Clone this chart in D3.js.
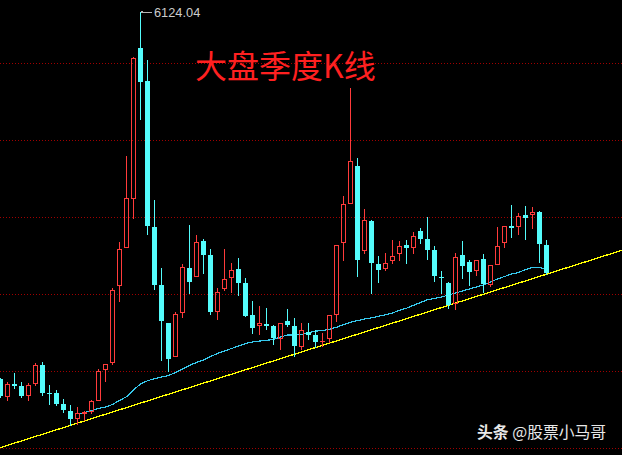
<!DOCTYPE html>
<html><head><meta charset="utf-8">
<script src="https://cdn.jsdelivr.net/npm/d3@7"></script>
<style>html,body{margin:0;padding:0;background:#000;}svg{display:block;}</style>
</head><body>
<svg id="c" width="622" height="455"></svg>
<script>
const quarters = ["2002Q4",
"2003Q1","2003Q2","2003Q3","2003Q4","2004Q1","2004Q2","2004Q3","2004Q4",
"2005Q1","2005Q2","2005Q3","2005Q4","2006Q1","2006Q2","2006Q3","2006Q4",
"2007Q1","2007Q2","2007Q3","2007Q4","2008Q1","2008Q2","2008Q3","2008Q4",
"2009Q1","2009Q2","2009Q3","2009Q4","2010Q1","2010Q2","2010Q3","2010Q4",
"2011Q1","2011Q2","2011Q3","2011Q4","2012Q1","2012Q2","2012Q3","2012Q4",
"2013Q1","2013Q2","2013Q3","2013Q4","2014Q1","2014Q2","2014Q3","2014Q4",
"2015Q1","2015Q2","2015Q3","2015Q4","2016Q1","2016Q2","2016Q3","2016Q4",
"2017Q1","2017Q2","2017Q3","2017Q4","2018Q1","2018Q2","2018Q3","2018Q4",
"2019Q1","2019Q2","2019Q3","2019Q4","2020Q1","2020Q2","2020Q3","2020Q4",
"2021Q1","2021Q2","2021Q3","2021Q4","2022Q1","2022Q2"];
const open = [1566,1342,1504,1479,1358,1498,1740,1392,1392,1255,
1168,1073,1137,1156,1296,1678,1768,2726,3198,3807,
5680,5274,3455,2734,2262,1843,2383,2946,2838,3281,
3104,2395,2681,2825,2933,2759,2361,2219,2250,2225,
2063,2287,2225,1964,2156,2113,2026,2057,2365,3260,
3745,4214,3161,3530,2995,2939,3027,3116,3232,3198,
3406,3306,3169,2834,2759,2492,3107,3020,2908,3057,
2734,2987,3260,3468,3452,3604,3604,3642,3232];
const close = [1355,1504,1479,1355,1491,1740,1396,1383,1255,1181,
1069,1143,1152,1292,1665,1749,2672,3182,3812,5560,
5261,3471,2738,2291,1818,2374,2958,2775,3269,3111,
2399,2644,2809,2917,2763,2353,2196,2258,2229,2072,
2258,2237,1976,2175,2113,2026,2038,2361,3228,3738,
4272,3045,3539,3002,2925,3008,3095,3219,3198,3343,
3310,3169,2846,2825,2486,3082,2971,2896,3045,2747,
2983,3219,3468,3443,3592,3567,3642,3244,2884];
const high = [1578,1529,1644,1529,1520,1759,1777,1491,1429,1314,
1243,1218,1168,1305,1690,1756,2697,3269,4338,5568,
6124.04,5531,3791,2946,2266,2399,2995,3476,3352,3310,
3182,2697,3182,3008,3070,2821,2536,2473,2449,2231,
2266,2436,2324,2262,2258,2175,2134,2365,3232,3841,
5179,4313,3679,3542,3095,3132,3294,3281,3294,3393,
3443,3580,3219,2908,2772,3132,3281,3045,3051,3120,
2989,3455,3471,3729,3629,3716,3704,3654,3294];
const low = [1342,1305,1460,1342,1305,1495,1371,1255,1249,1156,
994,1007,1056,1149,1292,1541,1752,2536,3194,3571,
4794,3365,2688,1802,1669,1839,2333,2639,2834,2887,
2374,2316,2672,2647,2614,2349,2134,2125,2187,1995,
1943,2221,1846,1939,2063,1967,1976,2020,2281,3045,
3741,2846,3136,2639,2775,2925,3014,3045,3011,3136,
3256,3057,2784,2635,2449,2436,2821,2734,2859,2647,
2722,2983,3210,3331,3368,3306,3443,3020,2877];
// moving average line, starting at quarter index 11
const maStart = 11;
const maValues = [1131,1150,1174,1199,1218,1249,1299,1345,1429,1504,
1544,1570,1591,1609,1647,1690,1736,1771,1802,1846,
1883,1914,1945,1976,2007,2026,2038,2047,2057,2088,
2113,2113,2119,2144,2160,2169,2184,2209,2242,2271,
2292,2312,2327,2345,2364,2386,2421,2446,2482,2517,
2552,2567,2585,2610,2635,2660,2685,2710,2734,2772,
2809,2840,2871,2890,2927,2952,2952,2933];
// yellow support line: quarter index -> value
const trendIdx = [-1, 90];
const trendVal = [686, 3200];
const gridValues = [708, 1665, 2623, 3580, 4537, 5494];
const titleText = "大盘季度K线";
const maxLabel = "6124.04";

const W = 622, H = 455;
const svg = d3.select("#c");
const y = d3.scaleLinear().domain([621.3, 6276.9]).range([H, 0]);
const xb = d3.scaleBand().domain(quarters).range([-3, -3 + 7 * quarters.length]).padding(0);
const bw = xb.bandwidth();
const cx = i => xb(quarters[i]) + bw / 2;
const xi = d3.scaleLinear().domain([0, quarters.length - 1]).range([cx(0), cx(quarters.length - 1)]);
const py = v => Math.round(y(v));

const RED = "#ff3b3b", CYAN = "#54fcfc";

// grid
svg.append("g").selectAll("line").data(gridValues).join("line")
  .attr("x1", 0).attr("x2", W)
  .attr("y1", d => py(d) + 0.5).attr("y2", d => py(d) + 0.5)
  .attr("stroke", "#a00000").attr("stroke-width", 1)
  .attr("stroke-dasharray", "1,2").attr("shape-rendering", "crispEdges");

// trend line
svg.append("path")
  .datum(trendIdx.map((q, k) => [q, trendVal[k]]))
  .attr("d", d3.line().x(d => xi(d[0])).y(d => y(d[1])))
  .attr("fill", "none").attr("stroke", "#ffff00").attr("stroke-width", 1.3)
  .attr("shape-rendering", "crispEdges");

// MA line
svg.append("path")
  .datum(maValues.map((v, k) => [maStart + k, v]))
  .attr("d", d3.line().x(d => xi(d[0])).y(d => y(d[1])))
  .attr("fill", "none").attr("stroke", "#36c8ec").attr("stroke-width", 1.2)
  .attr("shape-rendering", "crispEdges");

// candles
const g = svg.append("g").attr("shape-rendering", "crispEdges");
quarters.forEach((q, i) => {
  const o = open[i], c = close[i], h = high[i], l = low[i];
  const up = c > o;
  const col = up ? RED : CYAN;
  const x0 = Math.round(xb(q) + bw / 2 - 2.5);
  const xc = x0 + 2.5;
  const top = py(Math.max(o, c)), bot = py(Math.min(o, c));
  const yh = py(h), yl = py(l);
  if (up) {
    if (yh < top) g.append("line").attr("x1", xc).attr("x2", xc).attr("y1", yh).attr("y2", top).attr("stroke", col);
    if (yl > bot) g.append("line").attr("x1", xc).attr("x2", xc).attr("y1", bot).attr("y2", yl + 1).attr("stroke", col);
    if (bot - top >= 2) {
      g.append("rect").attr("x", x0 + 0.5).attr("y", top + 0.5).attr("width", 4).attr("height", bot - top - 1)
        .attr("fill", "none").attr("stroke", col).attr("stroke-width", 1);
    } else {
      g.append("rect").attr("x", x0).attr("y", top).attr("width", 5).attr("height", Math.max(1, bot - top)).attr("fill", col);
    }
  } else {
    g.append("line").attr("x1", xc).attr("x2", xc).attr("y1", yh).attr("y2", yl + 1).attr("stroke", col);
    g.append("rect").attr("x", x0).attr("y", top).attr("width", 5).attr("height", Math.max(1, bot - top)).attr("fill", col);
  }
});

// max label
const mi = high.indexOf(d3.max(high));
const mx = Math.round(cx(mi) - 0.5), my = py(high[mi]);
svg.append("rect").attr("x", mx + 1).attr("y", my - 1).attr("width", 2).attr("height", 2).attr("fill", "#b4b4b4");
svg.append("line").attr("x1", mx + 1).attr("x2", mx + 12).attr("y1", my + 0.5).attr("y2", my + 0.5)
  .attr("stroke", "#b4b4b4").attr("shape-rendering", "crispEdges");
svg.append("text").attr("x", mx + 14).attr("y", my + 4.5)
  .attr("font-family", "Liberation Sans, Arial, sans-serif").attr("font-size", 12.8)
  .attr("fill", "#cccccc").text(maxLabel);

// title
svg.append("text").attr("x", 195).attr("y", 78)
  .attr("font-family", "Noto Sans CJK SC, sans-serif").attr("font-size", 32).attr("font-weight", 400)
  .attr("fill", "#ff2020").text(titleText);

// watermark
const wm = svg.append("text").attr("x", 477).attr("y", 437.5)
  .attr("font-family", "Noto Sans CJK SC, sans-serif").attr("font-size", 15.8).attr("fill", "#e8e8e8");
wm.append("tspan").attr("font-weight", "bold").text("头条 ");
wm.append("tspan").text("@股票小马哥");
</script>
</body></html>
